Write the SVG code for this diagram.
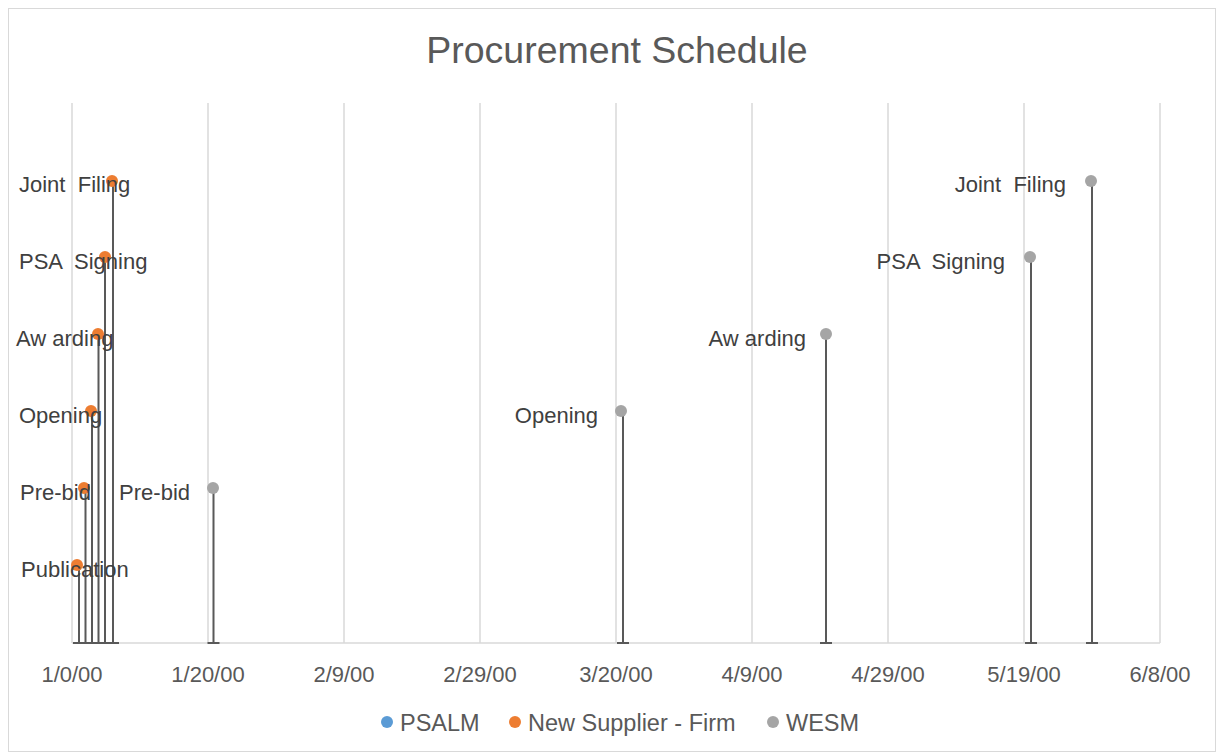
<svg xmlns="http://www.w3.org/2000/svg" width="1218" height="755" viewBox="0 0 1218 755">
<style>
text{font-family:"Liberation Sans",Arial,sans-serif;fill:#404040}
.grid{stroke:#d9d9d9;stroke-width:1.5}
.drop{stroke:#595959;stroke-width:2;fill:none}
.lbl{font-size:22px}
.ax{font-size:22px;fill:#595959;text-anchor:middle}
.lg{font-size:23.5px;fill:#595959}
.r{text-anchor:end}
.o{fill:#ED7D31}
.g{fill:#A5A5A5}
</style>
<rect x="8.5" y="8.5" width="1207" height="743" fill="#fff" stroke="#d9d9d9" stroke-width="1"/>
<text x="617" y="63" font-size="37.5" text-anchor="middle" style="fill:#595959">Procurement Schedule</text>
<g id="gridlines">
<line class="grid" x1="72" y1="103" x2="72" y2="643"/>
<line class="grid" x1="208" y1="103" x2="208" y2="643"/>
<line class="grid" x1="344" y1="103" x2="344" y2="643"/>
<line class="grid" x1="480" y1="103" x2="480" y2="643"/>
<line class="grid" x1="616" y1="103" x2="616" y2="643"/>
<line class="grid" x1="752" y1="103" x2="752" y2="643"/>
<line class="grid" x1="888" y1="103" x2="888" y2="643"/>
<line class="grid" x1="1024" y1="103" x2="1024" y2="643"/>
<line class="grid" x1="1160" y1="103" x2="1160" y2="643"/>
<line class="grid" x1="72" y1="643" x2="1160" y2="643"/>
</g>
<g id="connectors">
<path class="drop" d="M79 565V643M73 643H85"/>
<path class="drop" d="M85.5 488V643M79.5 643H91.5"/>
<path class="drop" d="M92 411V643M86 643H98"/>
<path class="drop" d="M98.5 334V643M92.5 643H104.5"/>
<path class="drop" d="M105 257V643M99 643H111"/>
<path class="drop" d="M113 181V643M107 643H119"/>
<path class="drop" d="M213.5 488V643M207.5 643H219.5"/>
<path class="drop" d="M623 411V643M617 643H629"/>
<path class="drop" d="M826 334V643M820 643H832"/>
<path class="drop" d="M1031 257V643M1025 643H1037"/>
<path class="drop" d="M1092 181V643M1086 643H1098"/>
</g>
<g id="new-supplier">
<g id="ns-publication"><circle class="o" cx="77" cy="565" r="6"/><text class="lbl" x="21" y="577">Publication</text></g>
<g id="ns-prebid"><circle class="o" cx="84" cy="488" r="6"/><text class="lbl" x="20" y="500">Pre-bid</text></g>
<g id="ns-opening"><circle class="o" cx="91" cy="411" r="6"/><text class="lbl" x="19" y="423">Opening</text></g>
<g id="ns-awarding"><circle class="o" cx="98" cy="334" r="6"/><text class="lbl" x="16" y="346">Aw arding</text></g>
<g id="ns-psa"><circle class="o" cx="105" cy="257" r="6"/><text class="lbl" x="19" y="269" xml:space="preserve">PSA  Signing</text></g>
<g id="ns-joint"><circle class="o" cx="112" cy="181" r="6"/><text class="lbl" x="19" y="192" xml:space="preserve">Joint  Filing</text></g>
</g>
<g id="wesm">
<g id="w-prebid"><circle class="g" cx="213" cy="488" r="6"/><text class="lbl r" x="190" y="500">Pre-bid</text></g>
<g id="w-opening"><circle class="g" cx="621" cy="411" r="6"/><text class="lbl r" x="598" y="423">Opening</text></g>
<g id="w-awarding"><circle class="g" cx="826" cy="334" r="6"/><text class="lbl r" x="806" y="346">Aw arding</text></g>
<g id="w-psa"><circle class="g" cx="1030" cy="257" r="6"/><text class="lbl r" x="1005" y="269" xml:space="preserve">PSA  Signing</text></g>
<g id="w-joint"><circle class="g" cx="1091" cy="181" r="6"/><text class="lbl r" x="1066" y="192" xml:space="preserve">Joint  Filing</text></g>
</g>
<g id="axis-labels">
<text class="ax" x="72" y="682">1/0/00</text>
<text class="ax" x="208" y="682">1/20/00</text>
<text class="ax" x="344" y="682">2/9/00</text>
<text class="ax" x="480" y="682">2/29/00</text>
<text class="ax" x="616" y="682">3/20/00</text>
<text class="ax" x="752" y="682">4/9/00</text>
<text class="ax" x="888" y="682">4/29/00</text>
<text class="ax" x="1024" y="682">5/19/00</text>
<text class="ax" x="1160" y="682">6/8/00</text>
</g>
<g id="legend">
<circle cx="387" cy="722" r="6" fill="#5B9BD5"/><text class="lg" x="400" y="731">PSALM</text>
<circle class="o" cx="515" cy="722" r="6"/><text class="lg" x="528" y="731">New Supplier - Firm</text>
<circle class="g" cx="773" cy="722" r="6"/><text class="lg" x="786" y="731">WESM</text>
</g>
</svg>
